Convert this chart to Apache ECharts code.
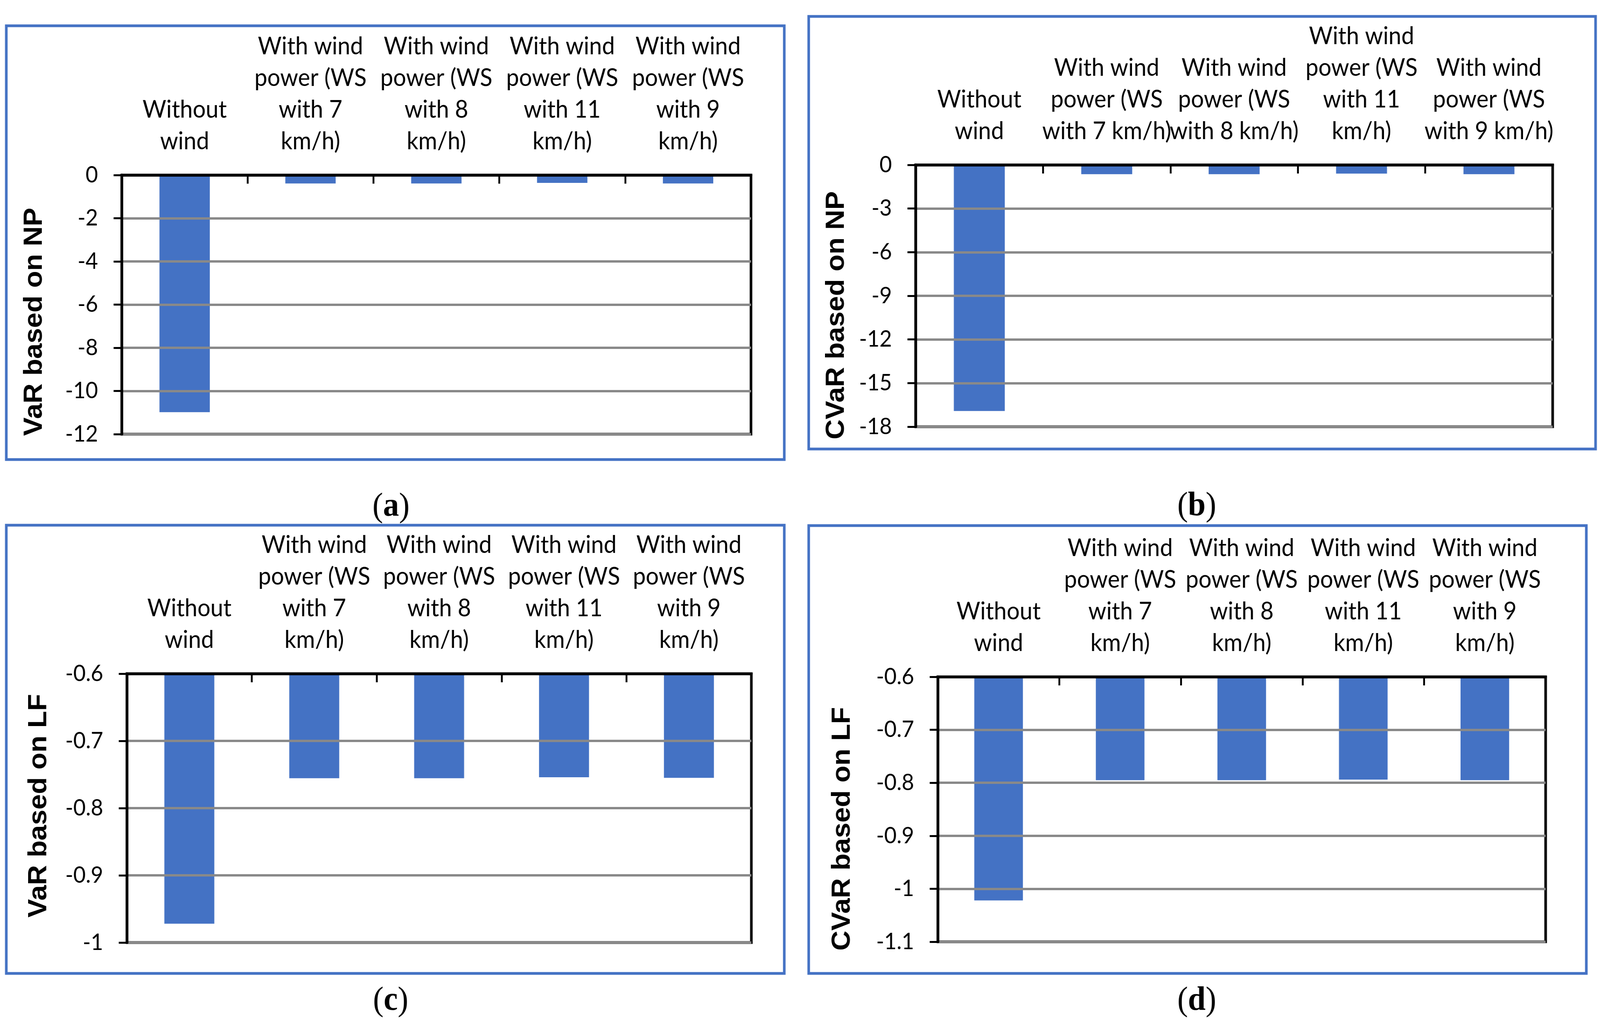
<!DOCTYPE html>
<html>
<head>
<meta charset="utf-8">
<script src="https://cdn.jsdelivr.net/npm/echarts@6/dist/echarts.min.js"></script>
<style>
html,body{margin:0;padding:0;background:#fff;overflow:hidden;}
#chart{width:4325px;height:2623px;transform-origin:0 0;}
</style>
</head>
<body>
<div id="chart"></div>
<script>
// ---- data ----
const categories = [
  'Without wind',
  'With wind power (WS with 7 km/h)',
  'With wind power (WS with 8 km/h)',
  'With wind power (WS with 11 km/h)',
  'With wind power (WS with 9 km/h)'
];
// wrapped tick labels as they appear in panels (a), (c), (d)
const tickLabelsACD = [
  'Without\nwind',
  'With wind\npower (WS\nwith 7\nkm/h)',
  'With wind\npower (WS\nwith 8\nkm/h)',
  'With wind\npower (WS\nwith 11\nkm/h)',
  'With wind\npower (WS\nwith 9\nkm/h)'
];
// wrapped tick labels as they appear in panel (b)
const tickLabelsB = [
  'Without\nwind',
  'With wind\npower (WS\nwith 7 km/h)',
  'With wind\npower (WS\nwith 8 km/h)',
  'With wind\npower (WS\nwith 11\nkm/h)',
  'With wind\npower (WS\nwith 9 km/h)'
];
const varNP  = [-10.98, -0.39, -0.39, -0.36, -0.39];
const cvarNP = [-16.92, -0.64, -0.64, -0.60, -0.64];
const varLF  = [-0.972, -0.7555, -0.7555, -0.754, -0.755];
const cvarLF = [-1.022, -0.795, -0.795, -0.794, -0.795];

const yTitles = ['VaR based on NP', 'CVaR based on NP', 'VaR based on LF', 'CVaR based on LF'];
const yMin = [-12, -18, -1, -1.1];
const yMax = [0, 0, -0.6, -0.6];
const yStep = [2, 3, 0.1, 0.1];
const captions = ['a', 'b', 'c', 'd'];

// ---- layout (design pixels, 4325 x 2623) ----
const panels = [
  {grid:{left:329, top:448, width:1701, height:663}, box:[17,66,2120,1176], cap:[1057,1298], gap:236, shift:44, labels:tickLabelsACD, data:varNP},
  {grid:{left:2475, top:422, width:1722, height:670}, box:[2186,42,4313,1149], cap:[3235,1296], gap:214, shift:50, labels:tickLabelsB, data:cvarNP},
  {grid:{left:343, top:1724, width:1688, height:688}, box:[17,1344,2120,2491], cap:[1056,2562], gap:238, shift:-6, labels:tickLabelsACD, data:varLF},
  {grid:{left:2535, top:1732, width:1643, height:678}, box:[2186,1345,4288,2491], cap:[3235,2562], gap:258, shift:50, labels:tickLabelsACD, data:cvarLF}
];

const BLUE = '#4472C4';
const LABEL_FONT = 'Lato';

// fit the 4325 x 2623 design to whatever the viewport is
const el = document.getElementById('chart');
const sx = window.innerWidth / 4325, sy = window.innerHeight / 2623;
el.style.transform = 'scale(' + sx + ',' + sy + ')';

const option = {
  backgroundColor: '#fff',
  animation: false,
  grid: panels.map(p => Object.assign({show:true, borderColor:'#000', borderWidth:7, backgroundColor:'transparent', containLabel:false}, p.grid)),
  xAxis: panels.map((p, i) => ({
    type: 'category',
    gridIndex: i,
    position: 'top',
    data: categories,
    z: 5,
    axisLine: {onZero:false, lineStyle:{color:'#000', width:7}},
    axisTick: {show:true, inside:true, length:22, lineStyle:{color:'#000', width:5}},
    axisLabel: {
      interval: 0, margin: 46, color:'#000', fontFamily: LABEL_FONT, fontSize: 62, lineHeight: 81,
      formatter: (v, idx) => p.labels[idx]
    },
    splitLine: {show:false}
  })),
  yAxis: panels.map((p, i) => ({
    type: 'value',
    gridIndex: i,
    min: yMin[i], max: yMax[i], interval: yStep[i],
    z: 5,
    axisLine: {show:true, onZero:false, lineStyle:{color:'#000', width:7}},
    axisTick: {show:true, length:22, lineStyle:{color:'#000', width:5}},
    axisLabel: {margin: 64, color:'#000', fontFamily: LABEL_FONT, fontSize: 58},
    splitLine: {show:true, lineStyle:{color:'#898989', width:6}},
    name: yTitles[i],
    nameLocation: 'middle',
    nameGap: p.gap,
    nameTextStyle: {
      fontFamily: 'Liberation Sans', fontWeight: 'bold', fontSize: 71, color:'#000',
      verticalAlign: 'middle', align: 'center',
      padding: p.shift >= 0 ? [0, 2*p.shift, 0, 0] : [0, 0, 0, -2*p.shift]
    }
  })),
  series: panels.map((p, i) => ({
    type: 'bar',
    xAxisIndex: i, yAxisIndex: i,
    data: p.data,
    barWidth: '40%',
    clip: true,
    itemStyle: {color: BLUE},
    z: 2
  })),
  graphic: [].concat(
    panels.map(p => ({
      type: 'rect', silent: true, z: 10,
      shape: {x: p.box[0], y: p.box[1], width: p.box[2]-p.box[0], height: p.box[3]-p.box[1]},
      style: {fill: 'none', stroke: BLUE, lineWidth: 7}
    })),
    panels.map((p, i) => ({
      type: 'text', silent: true, z: 10,
      x: p.cap[0], y: p.cap[1],
      style: {
        text: '{p|(}{b|' + captions[i] + '}{p|)}',
        align: 'center', verticalAlign: 'middle',
        rich: {
          p: {fontFamily: 'Liberation Serif', fontSize: 86, fill: '#000', fontWeight: 'normal'},
          b: {fontFamily: 'Liberation Serif', fontSize: 86, fill: '#000', fontWeight: 'bold'}
        }
      }
    }))
  )
};

const chart = echarts.init(el, null, {renderer: 'canvas', width: 4325, height: 2623});
chart.setOption(option);
</script>
</body>
</html>
